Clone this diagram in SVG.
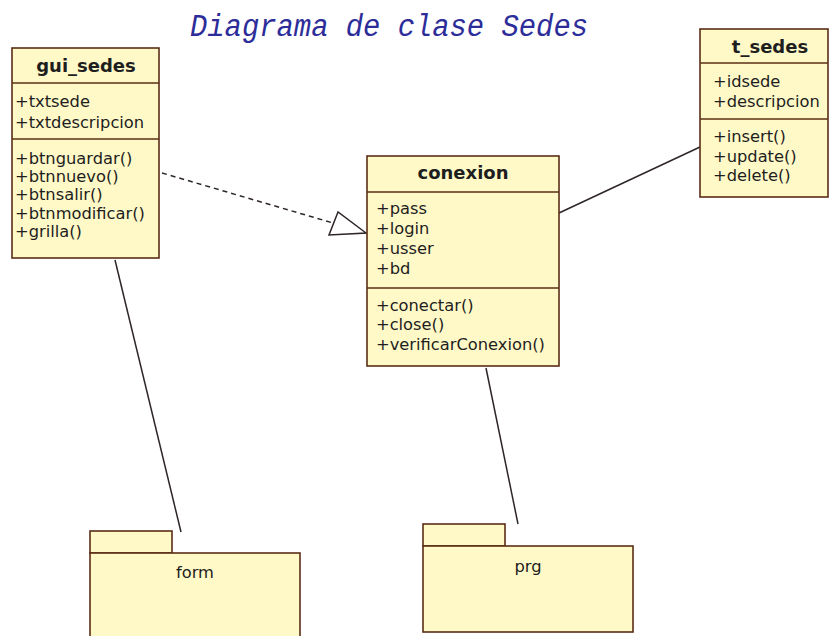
<svg xmlns="http://www.w3.org/2000/svg" width="829" height="636" viewBox="0 0 829 636">
<style>
.box{fill:#fff9c8;stroke:#5a2e14;stroke-width:1.6}
.sep{stroke:#5a2e14;stroke-width:1.6}
.t{font-family:"DejaVu Sans",Verdana,sans-serif;font-size:16.3px;fill:#1e1e1e}
.h{font-family:"DejaVu Sans",Verdana,sans-serif;font-size:18px;font-weight:bold;fill:#1e1e1e;text-anchor:middle}
.ln{stroke:#2e2626;stroke-width:1.5;fill:none}
.title{font-family:"Liberation Mono","Courier New",monospace;font-style:italic;font-size:31px;fill:#2d2d9a}
</style>
<rect width="829" height="636" fill="#ffffff"/>
<text class="title" x="190" y="36" textLength="398" lengthAdjust="spacingAndGlyphs">Diagrama de clase Sedes</text>

<g id="connectors">
<line class="ln" x1="162" y1="173" x2="333" y2="223" stroke-dasharray="5,4"/>
<polygon points="338,212 329,235 366,233" fill="#ffffff" stroke="#2e2626" stroke-width="1.5"/>
<line class="ln" x1="559" y1="213" x2="700" y2="147"/>
<line class="ln" x1="115" y1="260" x2="181" y2="532"/>
<line class="ln" x1="486" y1="368" x2="518" y2="524"/>
</g>

<g id="gui_sedes">
<rect class="box" x="12" y="48" width="147" height="210"/>
<line class="sep" x1="12" y1="83" x2="159" y2="83"/>
<line class="sep" x1="12" y1="139" x2="159" y2="139"/>
<text class="h" x="86" y="72">gui_sedes</text>
<text class="t" x="15" y="107">+txtsede</text>
<text class="t" x="15" y="128">+txtdescripcion</text>
<text class="t" x="15" y="164">+btnguardar()</text>
<text class="t" x="15" y="182">+btnnuevo()</text>
<text class="t" x="15" y="200">+btnsalir()</text>
<text class="t" x="15" y="219">+btnmodificar()</text>
<text class="t" x="15" y="237">+grilla()</text>
</g>

<g id="conexion">
<rect class="box" x="367" y="156" width="192" height="210"/>
<line class="sep" x1="367" y1="192" x2="559" y2="192"/>
<line class="sep" x1="367" y1="288" x2="559" y2="288"/>
<text class="h" x="463" y="179">conexion</text>
<text class="t" x="376" y="214">+pass</text>
<text class="t" x="376" y="234">+login</text>
<text class="t" x="376" y="254">+usser</text>
<text class="t" x="376" y="274">+bd</text>
<text class="t" x="376" y="311">+conectar()</text>
<text class="t" x="376" y="330">+close()</text>
<text class="t" x="376" y="350">+verificarConexion()</text>
</g>

<g id="t_sedes">
<rect class="box" x="700" y="29" width="128" height="168"/>
<line class="sep" x1="700" y1="63" x2="828" y2="63"/>
<line class="sep" x1="700" y1="119" x2="828" y2="119"/>
<text class="h" x="770" y="53">t_sedes</text>
<text class="t" x="713" y="87">+idsede</text>
<text class="t" x="713" y="107">+descripcion</text>
<text class="t" x="713" y="142">+insert()</text>
<text class="t" x="713" y="162">+update()</text>
<text class="t" x="713" y="181">+delete()</text>
</g>

<g id="form">
<rect class="box" x="90" y="531" width="82" height="22"/>
<rect class="box" x="90" y="553" width="210" height="90"/>
<text class="t" x="195" y="578" text-anchor="middle">form</text>
</g>

<g id="prg">
<rect class="box" x="423" y="524" width="82" height="22"/>
<rect class="box" x="423" y="546" width="210" height="86"/>
<text class="t" x="528" y="572" text-anchor="middle">prg</text>
</g>
</svg>
